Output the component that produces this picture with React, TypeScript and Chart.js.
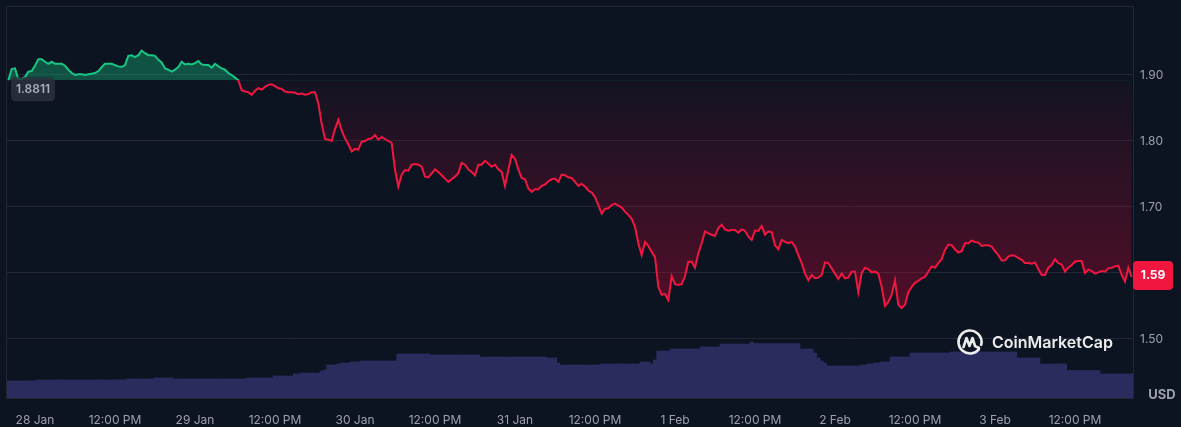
import React, { useEffect, useRef } from "react";
import { Chart, registerables } from "chart.js";

Chart.register(...registerables);

// ---- data ----
// samples every 30 minutes, first sample 4 hours before 28 Jan 00:00
const startHour = -4;
const stepHours = 0.5;

const prices = [
  1.892, 1.909, 1.910, 1.894, 1.894, 1.897, 1.905, 1.906, 1.914, 1.924,
  1.924, 1.920, 1.917, 1.920, 1.917, 1.917, 1.917, 1.914, 1.908, 1.903,
  1.900, 1.901, 1.901, 1.900, 1.901, 1.902, 1.903, 1.906, 1.912, 1.917,
  1.917, 1.917, 1.915, 1.913, 1.912, 1.915, 1.929, 1.930, 1.927, 1.930,
  1.937, 1.933, 1.930, 1.930, 1.929, 1.923, 1.919, 1.910, 1.908, 1.905,
  1.908, 1.912, 1.920, 1.916, 1.917, 1.916, 1.918, 1.921, 1.916, 1.915,
  1.915, 1.911, 1.917, 1.913, 1.910, 1.908, 1.903, 1.900, 1.896, 1.892,
  1.877, 1.875, 1.874, 1.870, 1.876, 1.880, 1.878, 1.882, 1.885, 1.886,
  1.883, 1.880, 1.879, 1.875, 1.874, 1.874, 1.873, 1.871, 1.872, 1.870,
  1.871, 1.874, 1.874, 1.857, 1.826, 1.803, 1.802, 1.800, 1.818, 1.832,
  1.816, 1.804, 1.795, 1.784, 1.788, 1.787, 1.799, 1.800, 1.803, 1.804,
  1.809, 1.802, 1.806, 1.803, 1.800, 1.797, 1.756, 1.731, 1.749, 1.756,
  1.755, 1.764, 1.765, 1.764, 1.761, 1.746, 1.745, 1.751, 1.757, 1.753,
  1.748, 1.743, 1.738, 1.742, 1.746, 1.751, 1.767, 1.764, 1.757, 1.753,
  1.748, 1.764, 1.764, 1.770, 1.766, 1.761, 1.764, 1.757, 1.753, 1.732,
  1.756, 1.779, 1.773, 1.757, 1.744, 1.742, 1.728, 1.723, 1.727, 1.727,
  1.732, 1.734, 1.739, 1.742, 1.743, 1.738, 1.749, 1.748, 1.745, 1.744,
  1.738, 1.732, 1.735, 1.731, 1.725, 1.722, 1.715, 1.703, 1.690, 1.697,
  1.698, 1.703, 1.705, 1.702, 1.699, 1.693, 1.688, 1.682, 1.670, 1.645,
  1.627, 1.647, 1.641, 1.632, 1.624, 1.579, 1.567, 1.568, 1.559, 1.595,
  1.583, 1.582, 1.583, 1.595, 1.617, 1.617, 1.608, 1.630, 1.645, 1.663,
  1.660, 1.658, 1.656, 1.668, 1.673, 1.666, 1.664, 1.665, 1.665, 1.661,
  1.666, 1.664, 1.655, 1.650, 1.664, 1.664, 1.671, 1.658, 1.663, 1.662,
  1.642, 1.636, 1.650, 1.647, 1.645, 1.647, 1.640, 1.627, 1.615, 1.599,
  1.589, 1.597, 1.592, 1.593, 1.597, 1.616, 1.615, 1.607, 1.599, 1.591,
  1.599, 1.592, 1.593, 1.602, 1.602, 1.571, 1.600, 1.608, 1.606, 1.601,
  1.602, 1.599, 1.579, 1.550, 1.556, 1.567, 1.589, 1.552, 1.547, 1.552,
  1.571, 1.579, 1.585, 1.588, 1.592, 1.594, 1.602, 1.610, 1.608, 1.615,
  1.621, 1.635, 1.643, 1.642, 1.636, 1.631, 1.633, 1.645, 1.645, 1.649,
  1.647, 1.646, 1.641, 1.642, 1.642, 1.640, 1.633, 1.627, 1.619, 1.619,
  1.625, 1.627, 1.626, 1.623, 1.620, 1.615, 1.615, 1.614, 1.616, 1.606,
  1.597, 1.597, 1.608, 1.612, 1.621, 1.615, 1.613, 1.602, 1.608, 1.612,
  1.617, 1.618, 1.618, 1.600, 1.605, 1.603, 1.599, 1.601, 1.603, 1.602,
  1.607, 1.608, 1.610, 1.611, 1.597, 1.587, 1.608, 1.594,
];

// 24h volume (millions USD)
const volumes = [
  170, 170, 170, 170, 170, 170, 172, 172, 172, 180,
  180, 180, 180, 180, 180, 180, 180, 180, 180, 180,
  180, 180, 180, 180, 180, 180, 180, 180, 180, 180,
  180, 180, 182, 182, 182, 182, 190, 190, 190, 190,
  190, 190, 190, 190, 200, 200, 200, 200, 200, 200,
  190, 190, 190, 190, 190, 190, 190, 190, 190, 190,
  190, 190, 190, 190, 190, 190, 190, 190, 190, 190,
  190, 190, 200, 200, 200, 200, 200, 200, 200, 200,
  220, 220, 220, 220, 220, 220, 240, 240, 250, 250,
  250, 250, 250, 250, 270, 280, 330, 330, 330, 340,
  350, 350, 350, 360, 360, 360, 370, 370, 370, 370,
  370, 370, 370, 370, 370, 370, 370, 440, 440, 440,
  440, 440, 440, 440, 440, 440, 440, 430, 430, 430,
  430, 430, 430, 430, 430, 430, 430, 430, 430, 430,
  430, 430, 410, 410, 410, 410, 410, 410, 410, 410,
  410, 410, 410, 410, 410, 410, 410, 410, 410, 410,
  410, 410, 400, 400, 400, 350, 330, 330, 330, 330,
  330, 330, 330, 330, 330, 330, 330, 330, 340, 340,
  340, 340, 340, 340, 340, 340, 340, 340, 340, 340,
  360, 360, 360, 340, 380, 470, 470, 470, 470, 490,
  490, 490, 490, 490, 490, 490, 490, 490, 510, 510,
  510, 510, 510, 510, 540, 540, 540, 540, 540, 540,
  540, 540, 540, 560, 545, 545, 545, 545, 545, 545,
  545, 545, 545, 545, 545, 545, 545, 545, 490, 490,
  490, 490, 450, 400, 370, 350, 320, 320, 320, 320,
  320, 320, 320, 320, 320, 320, 330, 330, 340, 340,
  350, 350, 360, 360, 360, 410, 410, 410, 410, 410,
  410, 450, 450, 450, 450, 450, 450, 450, 450, 450,
  450, 450, 450, 460, 460, 460, 460, 460, 460, 460,
  460, 460, 460, 460, 460, 460, 460, 460, 460, 460,
  460, 460, 460, 400, 400, 400, 400, 400, 400, 400,
  340, 340, 340, 340, 340, 340, 340, 340, 275, 275,
  275, 275, 275, 275, 275, 275, 275, 275, 240, 240,
  240, 240, 240, 240, 240, 240, 240, 240,
];

const xTickHours = [0, 12, 24, 36, 48, 60, 72, 84, 96, 108, 120, 132, 144, 156];
const xTickLabels = [
  "28 Jan", "12:00 PM", "29 Jan", "12:00 PM", "30 Jan", "12:00 PM", "31 Jan",
  "12:00 PM", "1 Feb", "12:00 PM", "2 Feb", "12:00 PM", "3 Feb", "12:00 PM",
];
const yTicks = [1.5, 1.6, 1.7, 1.8, 1.9];
const baselineLabel = "1.8811";
const lastPriceLabel = "1.59";
const currencyLabel = "USD";
const watermark = "CoinMarketCap";

// ---- styles ----
const BG = "#0d1421";
const GRID = "#222635";
const TXT = "#9aa0b2";
const GREEN = "#16c784";
const RED = "#f0163f";
const VOL = "#2b2c5e";
const FONT = "Inter, 'Noto Sans', sans-serif";

function lineGradient(chart: any, base: number) {
  const { chartArea, scales } = chart;
  if (!chartArea) return RED;
  const y = scales.y.getPixelForValue(base);
  const g = chart.ctx.createLinearGradient(0, chartArea.top, 0, chartArea.bottom);
  const s = Math.min(1, Math.max(0, (y - chartArea.top) / (chartArea.bottom - chartArea.top)));
  g.addColorStop(0, GREEN);
  g.addColorStop(s, GREEN);
  g.addColorStop(s, RED);
  g.addColorStop(1, RED);
  return g;
}

function redFill(chart: any, base: number) {
  const { chartArea, scales } = chart;
  if (!chartArea) return "rgba(240,22,63,0.1)";
  const y = scales.y.getPixelForValue(base);
  const g = chart.ctx.createLinearGradient(0, y, 0, chartArea.bottom - 80);
  g.addColorStop(0, "rgba(234,0,56,0.03)");
  g.addColorStop(1, "rgba(234,0,56,0.32)");
  return g;
}

function roundRect(ctx: CanvasRenderingContext2D, x: number, y: number, w: number, h: number, r: number) {
  ctx.beginPath();
  ctx.moveTo(x + r, y);
  ctx.lineTo(x + w - r, y);
  ctx.quadraticCurveTo(x + w, y, x + w, y + r);
  ctx.lineTo(x + w, y + h - r);
  ctx.quadraticCurveTo(x + w, y + h, x + w - r, y + h);
  ctx.lineTo(x + r, y + h);
  ctx.quadraticCurveTo(x, y + h, x, y + h - r);
  ctx.lineTo(x, y + r);
  ctx.quadraticCurveTo(x, y, x + r, y);
  ctx.closePath();
}

const decorPlugin = {
  id: "decor",
  beforeDraw(chart: any) {
    const { ctx, width, height } = chart;
    ctx.save();
    ctx.fillStyle = BG;
    ctx.fillRect(0, 0, width, height);
    ctx.restore();
  },
  beforeDatasetsDraw(chart: any) {
    const { ctx, chartArea } = chart;
    ctx.save();
    ctx.strokeStyle = GRID;
    ctx.lineWidth = 1;
    ctx.strokeRect(
      Math.round(chartArea.left) - 0.5,
      Math.round(chartArea.top) - 0.5,
      Math.round(chartArea.right - chartArea.left) + 1,
      Math.round(chartArea.bottom - chartArea.top) + 1
    );
    ctx.restore();
  },
  afterDraw(chart: any) {
    const { ctx, chartArea, scales } = chart;
    const base = prices[0];
    const last = prices[prices.length - 1];
    const by = scales.y.getPixelForValue(base);
    const ly = scales.y.getPixelForValue(last);
    ctx.save();

    // watermark
    const wx = chartArea.right - 163;
    const wy = chartArea.bottom - 56;
    ctx.strokeStyle = "rgba(255,255,255,0.92)";
    ctx.lineWidth = 2.6;
    ctx.lineCap = "round";
    ctx.lineJoin = "round";
    ctx.beginPath();
    ctx.arc(wx, wy, 11.5, 0.22 * Math.PI, 2.08 * Math.PI);
    ctx.stroke();
    ctx.beginPath();
    ctx.moveTo(wx - 6.5, wy + 5);
    ctx.lineTo(wx - 3.5, wy - 4);
    ctx.lineTo(wx - 0.5, wy + 4);
    ctx.lineTo(wx + 2.5, wy - 4);
    ctx.lineTo(wx + 5, wy + 4);
    ctx.lineTo(wx + 9, wy + 6);
    ctx.stroke();
    ctx.fillStyle = "rgba(255,255,255,0.92)";
    ctx.font = `600 16px ${FONT}`;
    ctx.textAlign = "left";
    ctx.textBaseline = "middle";
    ctx.fillText(watermark, wx + 22, wy + 1);

    // baseline label
    ctx.fillStyle = "rgba(44,48,62,0.85)";
    roundRect(ctx, chartArea.left + 4, by - 3, 44, 24, 5);
    ctx.fill();
    ctx.fillStyle = "#a9afc0";
    ctx.font = `600 12px ${FONT}`;
    ctx.textAlign = "center";
    ctx.fillText(baselineLabel, chartArea.left + 26, by + 9);

    // last price box
    ctx.fillStyle = RED;
    roundRect(ctx, chartArea.right, ly - 16, 40, 29, 4);
    ctx.fill();
    ctx.fillStyle = "#ffffff";
    ctx.font = `700 12px ${FONT}`;
    ctx.fillText(lastPriceLabel, chartArea.right + 20, ly - 1.5);

    // currency label
    ctx.fillStyle = TXT;
    ctx.font = `700 13px ${FONT}`;
    ctx.fillText(currencyLabel, chartArea.right + 29, chartArea.bottom - 3);
    ctx.restore();
  },
};

export default function App() {
  const ref = useRef<HTMLCanvasElement>(null);

  useEffect(() => {
    document.body.style.margin = "0";
    document.body.style.background = BG;
    const canvas = ref.current;
    if (!canvas) return;
    const hours = prices.map((_, i) => startHour + i * stepHours);
    const base = prices[0];
    Chart.defaults.font.family = FONT;

    const chart = new Chart(canvas, {
      type: "line",
      data: {
        datasets: [
          {
            type: "line",
            data: hours.map((h, i) => ({ x: h, y: prices[i] })),
            yAxisID: "y",
            borderWidth: 2,
            pointRadius: 0,
            tension: 0,
            order: 0,
            borderColor: (c: any) => lineGradient(c.chart, base),
            backgroundColor: (c: any) => redFill(c.chart, base),
            fill: { target: { value: base }, above: "rgba(22,199,132,0.35)" },
          } as any,
          {
            type: "bar",
            data: hours.map((h, i) => ({ x: h, y: volumes[i] })),
            yAxisID: "yv",
            backgroundColor: VOL,
            borderWidth: 0,
            barPercentage: 1,
            categoryPercentage: 1,
            order: 1,
          } as any,
        ],
      },
      options: {
        animation: false,
        responsive: true,
        maintainAspectRatio: false,
        devicePixelRatio: 1,
        layout: { padding: { left: 7, top: 7, right: 0, bottom: 0 } },
        plugins: {
          legend: { display: false },
          tooltip: { enabled: false },
        },
        scales: {
          x: {
            type: "linear",
            min: -4.2,
            max: 164.7,
            offset: false,
            grid: { display: false, offset: false },
            border: { display: false },
            afterBuildTicks: (a: any) => {
              a.ticks = xTickHours.map((v) => ({ value: v }));
            },
            afterFit: (s: any) => {
              s.height = 29;
              s.paddingLeft = 0;
              s.paddingRight = 0;
            },
            ticks: {
              autoSkip: false,
              maxRotation: 0,
              padding: 7,
              color: TXT,
              font: { family: FONT, size: 12 },
              callback: (_v: any, i: number) => xTickLabels[i],
            },
          },
          y: {
            type: "linear",
            position: "right",
            min: 1.4106,
            max: 2.003,
            grid: { color: GRID, drawTicks: false },
            border: { display: false },
            afterBuildTicks: (a: any) => {
              a.ticks = yTicks.map((v) => ({ value: v }));
            },
            afterFit: (s: any) => {
              s.width = 48;
              s.paddingTop = 0;
              s.paddingBottom = 0;
            },
            ticks: {
              padding: 7,
              color: TXT,
              font: { family: FONT, size: 12 },
              callback: (v: any) => Number(v).toFixed(2),
            },
          },
          yv: {
            type: "linear",
            display: false,
            min: 0,
            max: 3910,
          },
        },
      } as any,
      plugins: [decorPlugin],
    });
    return () => chart.destroy();
  }, []);

  return (
    <div style={{ width: 1181, height: 427, position: "relative", background: BG }}>
      <canvas ref={ref} />
    </div>
  );
}
